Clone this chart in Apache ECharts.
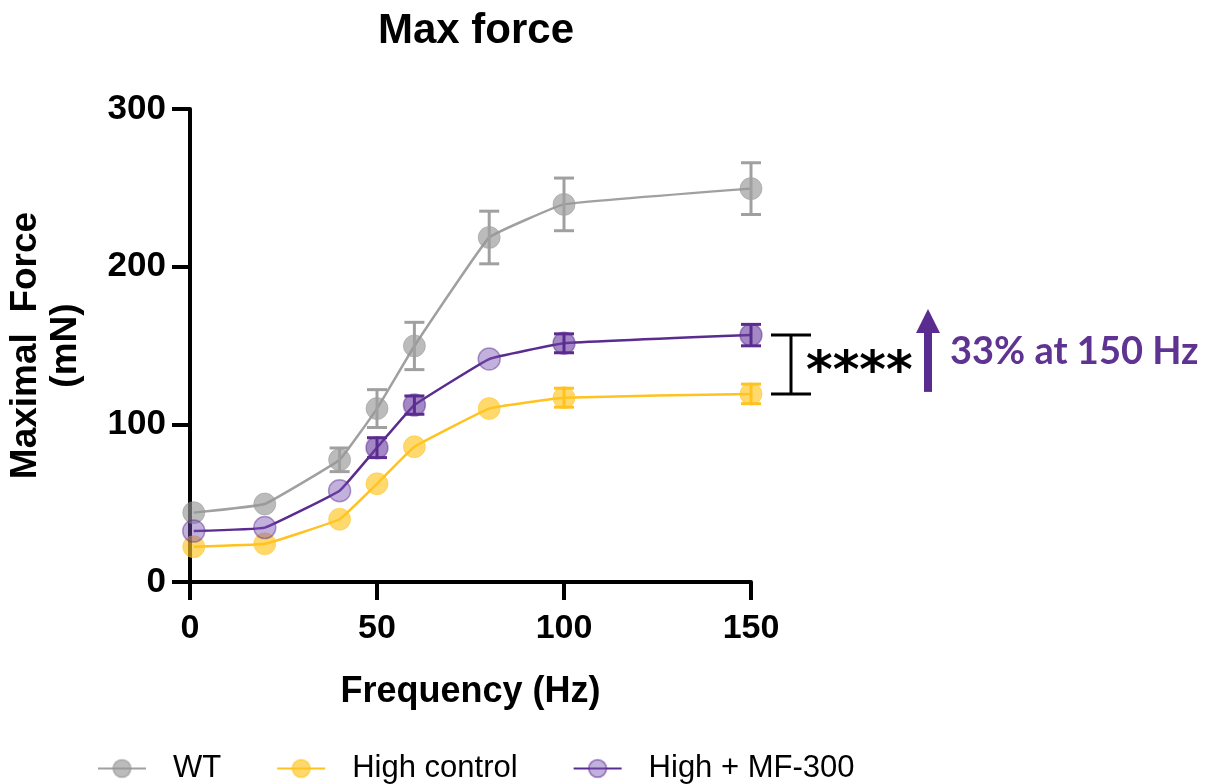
<!DOCTYPE html>
<html>
<head>
<meta charset="utf-8">
<script src="https://cdn.jsdelivr.net/npm/echarts@6/dist/echarts.min.js"></script>
<style>
html, body { margin: 0; padding: 0; background: #fff; }
#container { width: 1207px; height: 784px; }
</style>
</head>
<body>
<div id="container"></div>
<script>
// frequencies (Hz)
var freqs = [1, 20, 40, 50, 60, 80, 100, 150];
// mean force (mN) and SEM (0 = bar hidden behind the marker)
var wtMean = [44, 49.5, 77.5, 110, 149.7, 218.5, 239.5, 249.5];
var wtSem = [0, 0, 7.5, 12, 15, 16.7, 16.7, 16.4];
var hcMean = [22.4, 24.2, 39.8, 62.3, 85.8, 110, 116.9, 119.3];
var hcSem = [0, 0, 0, 0, 0, 0, 6, 6.2];
var mfMean = [32.3, 34.5, 57.9, 85.2, 112.2, 141.4, 151.4, 156.6];
var mfSem = [0, 0, 0, 6.3, 5.8, 0, 6, 6.8];
var yTicks = [0, 100, 200, 300];
var xTicks = [0, 50, 100, 150];

var myChart = echarts.init(document.getElementById('container'));

function pairs(mean) {
    return freqs.map(function (f, i) { return [f, mean[i]]; });
}
function bars(mean, sem) {
    return freqs.map(function (f, i) { return [f, mean[i] - sem[i], mean[i] + sem[i], mean[i]]; });
}
function errorBar(color, fill) {
    return function (params, api) {
        var x = api.value(0);
        if (api.value(1) === api.value(2)) return null;
        var lo = api.coord([x, api.value(1)]);
        var hi = api.coord([x, api.value(2)]);
        var c = api.coord([x, api.value(3)]);
        var w = 10;
        var st = { stroke: color, lineWidth: 3 };
        var kids = [];
        if (fill) kids.push({ type: 'circle', shape: { cx: c[0], cy: c[1], r: 11 }, style: { fill: fill } });
        kids.push(
            { type: 'line', shape: { x1: lo[0], y1: lo[1], x2: hi[0], y2: hi[1] }, style: st },
            { type: 'line', shape: { x1: lo[0] - w, y1: lo[1], x2: lo[0] + w, y2: lo[1] }, style: st },
            { type: 'line', shape: { x1: hi[0] - w, y1: hi[1], x2: hi[0] + w, y2: hi[1] }, style: st }
        );
        return { type: 'group', children: kids };
    };
}

var gray = '#a0a0a0', yellow = '#ffc21f', purple = '#5b2c8f';
var font = 'Liberation Sans, Arial, sans-serif';

option = {
    animation: false,
    title: {
        text: 'Max force',
        left: 471,
        textAlign: 'center',
        top: 5,
        textStyle: { fontFamily: font, fontWeight: 'bold', fontSize: 42, color: '#000' }
    },
    legend: {
        bottom: -5,
        left: 92,
        itemWidth: 48,
        itemHeight: 22,
        itemGap: 55,
        data: ['WT', 'High control', 'High + MF-300'],
        textStyle: { fontFamily: font, fontSize: 31, color: '#000', padding: [0, 0, 0, 22] }
    },
    grid: { left: 190, right: 456, top: 109, bottom: 202, outerBoundsMode: 'none', containLabel: false },
    xAxis: {
        type: 'value',
        min: 0, max: 150, interval: 50,
        name: 'Frequency (Hz)',
        nameLocation: 'middle',
        nameGap: 92,
        nameTextStyle: { fontFamily: font, fontWeight: 'bold', fontSize: 36, color: '#000' },
        splitLine: { show: false },
        axisLine: { lineStyle: { color: '#000', width: 4 } },
        axisTick: { length: 18, lineStyle: { width: 4, color: '#000' } },
        axisLabel: {
            margin: 30, fontFamily: font, fontWeight: 'bold', fontSize: 34, color: '#000',
            customValues: xTicks, showMinLabel: true, showMaxLabel: true
        }
    },
    yAxis: {
        type: 'value',
        min: 0, max: 300, interval: 100,
        name: 'Maximal  Force\n(mN)',
        nameLocation: 'middle',
        nameGap: 104,
        nameRotate: 90,
        nameTextStyle: { fontFamily: font, fontWeight: 'bold', fontSize: 37, color: '#000', lineHeight: 40, align: 'center' },
        splitLine: { show: false },
        axisLine: { show: true, lineStyle: { color: '#000', width: 4 } },
        axisTick: { show: true, length: 18, lineStyle: { width: 4, color: '#000' } },
        axisLabel: {
            margin: 24, fontFamily: font, fontWeight: 'bold', fontSize: 35, color: '#000',
            customValues: yTicks
        }
    },
    series: [
        {
            name: 'WT', type: 'line', data: pairs(wtMean), smooth: 0.08,
            symbol: 'circle', symbolSize: 22,
            lineStyle: { color: gray, width: 2.5 },
            itemStyle: { color: 'rgba(150,150,150,0.65)', borderColor: 'rgba(150,150,150,0.5)', borderWidth: 1 },
            z: 3
        },
        {
            name: 'High control', type: 'line', data: pairs(hcMean), smooth: 0.08,
            symbol: 'circle', symbolSize: 22,
            lineStyle: { color: yellow, width: 2.5 },
            itemStyle: { color: 'rgba(255,196,30,0.65)', borderColor: 'rgba(255,196,30,0.5)', borderWidth: 1 },
            z: 3
        },
        {
            name: 'High + MF-300', type: 'line', data: pairs(mfMean), smooth: 0.08,
            symbol: 'circle', symbolSize: 22,
            lineStyle: { color: purple, width: 2.5 },
            itemStyle: { color: 'rgba(120,80,180,0.45)', borderColor: 'rgba(92,44,143,0.45)', borderWidth: 1.5 },
            z: 3
        },
        { type: 'custom', data: bars(wtMean, wtSem), renderItem: errorBar(gray), z: 4, silent: true },
        { type: 'custom', data: bars(hcMean, hcSem), renderItem: errorBar(yellow), z: 4, silent: true },
        { type: 'custom', data: bars(mfMean, mfSem), renderItem: errorBar(purple, 'rgba(92,44,143,0.3)'), z: 4, silent: true }
    ]
};

myChart.setOption(option, true);

// significance annotation at 150 Hz, placed through the chart's own coordinates
var last = freqs.length - 1;
var pTop = myChart.convertToPixel({ gridIndex: 0 }, [freqs[last], mfMean[last]]);
var pBot = myChart.convertToPixel({ gridIndex: 0 }, [freqs[last], hcMean[last]]);
var bx = pTop[0] + 40;
var mid = (pTop[1] + pBot[1]) / 2;
var ax = pTop[0] + 177;
myChart.setOption({
    graphic: [
        { type: 'line', shape: { x1: bx, y1: pTop[1], x2: bx, y2: pBot[1] }, style: { stroke: '#000', lineWidth: 3 } },
        { type: 'line', shape: { x1: bx - 20, y1: pTop[1], x2: bx + 20, y2: pTop[1] }, style: { stroke: '#000', lineWidth: 3 } },
        { type: 'line', shape: { x1: bx - 20, y1: pBot[1], x2: bx + 20, y2: pBot[1] }, style: { stroke: '#000', lineWidth: 3 } },
        { type: 'text', left: bx + 15, top: mid - 16, style: { text: '****', fontFamily: 'DejaVu Sans', fontWeight: 'bold', fontSize: 51, fill: '#000' } },
        { type: 'rect', shape: { x: ax - 4, y: pTop[1] - 4, width: 8, height: pBot[1] - pTop[1] + 2 }, style: { fill: purple } },
        { type: 'polygon', shape: { points: [[ax - 12, pTop[1] - 2], [ax + 12, pTop[1] - 2], [ax, pTop[1] - 26]] }, style: { fill: purple } },
        { type: 'text', left: ax + 22, top: mid - 32, style: { text: '33% at 150 Hz', fontFamily: 'Lato', fontWeight: 'bold', fontSize: 38, fill: '#5e3392' } }
    ]
});

window.onresize = function () { myChart.resize(); };
</script>
</body>
</html>
